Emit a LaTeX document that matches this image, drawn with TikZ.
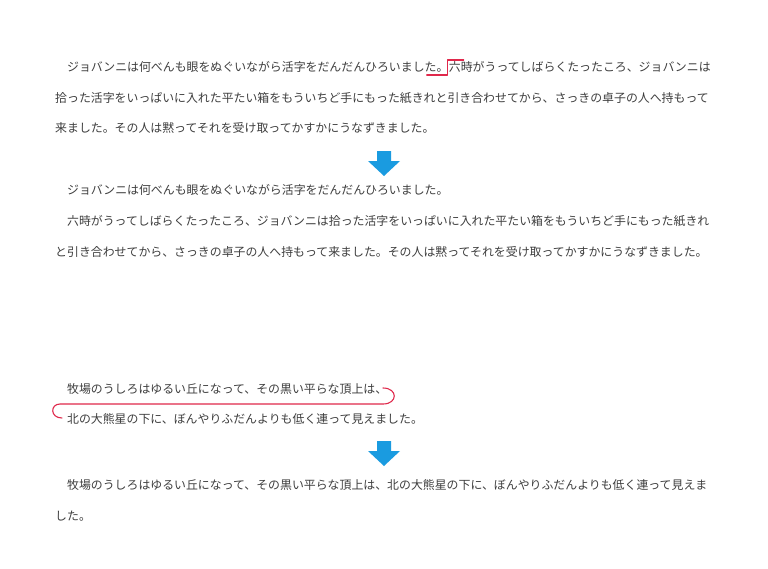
\documentclass[tikz,border=0pt]{standalone}
\usepackage{fontspec}
\newfontfamily\jpfont{Noto Sans CJK JP}
\usepackage{xcolor}
\usetikzlibrary{calc}
\definecolor{textgray}{HTML}{3E3E3E}
\definecolor{markred}{HTML}{E0284B}
\definecolor{arrowblue}{HTML}{1A9BE0}
\tikzset{
	txt/.style={anchor=base west, inner sep=0pt, text=textgray,
			font=\jpfont\fontsize{11.9}{14}\selectfont},
	redmark/.style={draw=markred, line width=1.1pt, line cap=round, line join=round}
}

\begin{document}
\begin{tikzpicture}[x=1pt,y=-1pt]
	\fill[white] (0,0) rectangle (768,568);
	\useasboundingbox (0,0) rectangle (768,568);

	%--- First example: before ---
	\node[txt] (p1a) at (55,71.5) {　ジョバンニは何べんも眼をぬぐいながら活字をだんだんひろいました。};
	\node[txt] (p1b) at (p1a.base east) {六時がうってしばらくたったころ、ジョバンニは};
	\node[txt] (p1c) at (55,102) {拾った活字をいっぱいに入れた平たい箱をもういちど手にもった紙きれと引き合わせてから、さっきの卓子の人へ持もって};
	\node[txt] (p1d) at (55,132.5) {来ました。その人は黙ってそれを受け取ってかすかにうなずきました。};
	% Mark for a new paragraph
	\coordinate (brk) at (p1a.base east);
	\draw[redmark] ($(brk)+(-22,3.5)$) -- ($(brk)+(-1,3.5)$) -- ($(brk)+(-1,-11.5)$) -- ($(brk)+(15,-11.5)$);

	%--- Arrow ---
	\begin{scope}[shift={(384,151)}]
		\fill[arrowblue] (-7,0) -- (7,0) -- (7,10) -- (16,10) -- (0,25) -- (-16,10) -- (-7,10) -- cycle;
	\end{scope}

	%--- First example: after ---
	\node[txt] (p2a) at (55,194.5) {　ジョバンニは何べんも眼をぬぐいながら活字をだんだんひろいました。};
	\node[txt] (p2b) at (55,225.5) {　六時がうってしばらくたったころ、ジョバンニは拾った活字をいっぱいに入れた平たい箱をもういちど手にもった紙きれ};
	\node[txt] (p2c) at (55,256.5) {と引き合わせてから、さっきの卓子の人へ持もって来ました。その人は黙ってそれを受け取ってかすかにうなずきました。};

	%--- Second example: before ---
	\node[txt] (p3a) at (55,393.5) {　牧場のうしろはゆるい丘になって、その黒い平らな頂上は、};
	\node[txt] (p3b) at (55,423.5) {　北の大熊星の下に、ぼんやりふだんよりも低く連って見えました。};
	% Mark for joining the lines
	\draw[redmark] (383,388) .. controls (398,388) and (398,404) .. (383,404)
		-- (60,404) .. controls (50,404) and (50,418) .. (62,418);

	%--- Arrow ---
	\begin{scope}[shift={(384,441)}]
		\fill[arrowblue] (-7,0) -- (7,0) -- (7,10) -- (16,10) -- (0,25) -- (-16,10) -- (-7,10) -- cycle;
	\end{scope}

	%--- Second example: after ---
	\node[txt] (p4a) at (55,489) {　牧場のうしろはゆるい丘になって、その黒い平らな頂上は、北の大熊星の下に、ぼんやりふだんよりも低く連って見えま};
	\node[txt] (p4b) at (55,520.5) {した。};
\end{tikzpicture}
\end{document}
